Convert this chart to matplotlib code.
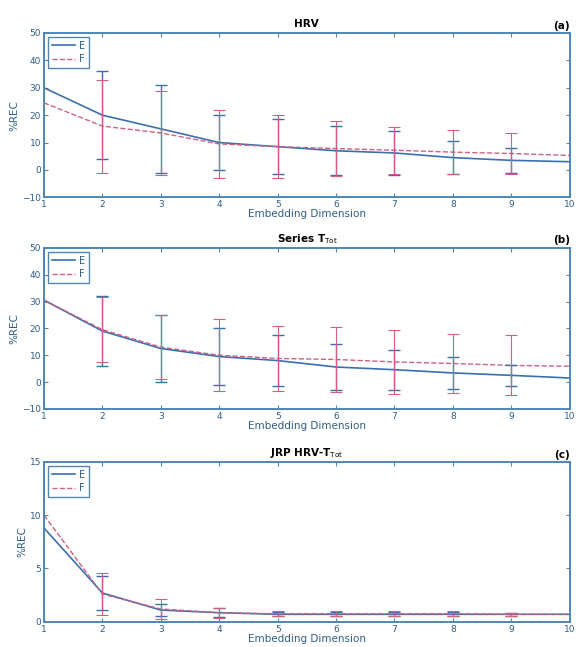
import numpy as np
import matplotlib
matplotlib.use("Agg")
import matplotlib.pyplot as plt

dims = np.arange(1, 11)

# panel (a) HRV
hrv_e = [30, 20, 15, 10, 8.5, 7, 6.2, 4.5, 3.5, 3]
hrv_f = [24.5, 16, 13.5, 9.5, 8.5, 7.8, 7.2, 6.5, 6, 5.3]
hrv_e_err = [0, 16, 16, 10, 10, 9, 8, 6, 4.5, 0]
hrv_f_err = [0, 17, 15.5, 12.5, 11.5, 10, 8.5, 8, 7.5, 0]

# panel (b) Series T_Tot
ttot_e = [30.5, 19, 12.5, 9.5, 8, 5.6, 4.6, 3.4, 2.5, 1.5]
ttot_f = [30.5, 19.5, 13, 10, 8.8, 8.4, 7.5, 6.9, 6.2, 5.9]
ttot_e_err = [0, 13, 12.5, 10.5, 9.5, 8.7, 7.5, 6, 4, 0]
ttot_f_err = [0, 12, 12, 13.5, 12, 12, 11.8, 11, 11.2, 0]

# panel (c) JRP HRV-T_Tot
jrp_e = [8.8, 2.7, 1.1, 0.85, 0.7, 0.7, 0.7, 0.7, 0.7, 0.7]
jrp_f = [10, 2.6, 1.2, 0.85, 0.75, 0.75, 0.75, 0.75, 0.7, 0.7]
jrp_e_err = [0, 1.6, 0.6, 0.4, 0.2, 0.2, 0.2, 0.2, 0.15, 0]
jrp_f_err = [0, 2.0, 0.9, 0.45, 0.25, 0.25, 0.25, 0.25, 0.15, 0]

titles = ["HRV", r"Series T$_{\mathrm{Tot}}$", r"JRP HRV-T$_{\mathrm{Tot}}$"]
tags = ["(a)", "(b)", "(c)"]

blue = "#3a6fb0"
red = "#d0607f"
axis_col = "#4f86b5"
text_col = "#2f5d88"

fig = plt.figure(figsize=(5.79, 6.47), dpi=100)
boxes = [
    [0.076, 0.695, 0.908, 0.254],
    [0.076, 0.368, 0.908, 0.249],
    [0.076, 0.039, 0.908, 0.247],
]
panels = [
    (hrv_e, hrv_f, hrv_e_err, hrv_f_err, (-10, 50), np.arange(-10, 51, 10)),
    (ttot_e, ttot_f, ttot_e_err, ttot_f_err, (-10, 50), np.arange(-10, 51, 10)),
    (jrp_e, jrp_f, jrp_e_err, jrp_f_err, (0, 15), np.arange(0, 16, 5)),
]

for box, (e, f, e_err, f_err, ylim, yticks), title, tag in zip(boxes, panels, titles, tags):
    ax = fig.add_axes(box)
    ax.plot(dims, e, "-", color=blue, lw=1.2, label="E")
    ax.plot(dims, f, "--", color=red, lw=1.0, label="F")
    # error bars only on the inner dimensions, as in the original figure
    sel = slice(1, 9)
    ax.errorbar(dims[sel], np.array(e)[sel], yerr=np.array(e_err)[sel], fmt="none",
                ecolor=blue, elinewidth=1.0, capsize=4, capthick=1.0)
    ax.errorbar(dims[sel], np.array(f)[sel], yerr=np.array(f_err)[sel], fmt="none",
                ecolor=red, elinewidth=0.8, capsize=4, capthick=0.8)
    ax.set_xlim(1, 10)
    ax.set_ylim(*ylim)
    ax.set_xticks(dims)
    ax.set_yticks(yticks)
    ax.tick_params(direction="in", top=True, right=True, labelsize=6.5,
                   colors=axis_col, labelcolor=text_col, length=3, pad=2)
    for sp in ax.spines.values():
        sp.set_color(axis_col)
        sp.set_linewidth(1.4)
    ax.set_xlabel("Embedding Dimension", fontsize=7.5, color=text_col, labelpad=0)
    ax.set_ylabel("%REC", fontsize=7.5, color=text_col, labelpad=2)
    ax.set_title(title, fontsize=7.5, fontweight="bold", pad=4)
    ax.text(1.0, 1.015, tag, transform=ax.transAxes, ha="right", va="bottom",
            fontsize=7.5, fontweight="bold")
    leg = ax.legend(loc="upper left", fontsize=7, handlelength=2.4, borderpad=0.4,
                    labelspacing=0.35, fancybox=False, framealpha=1, borderaxespad=0.4,
                    handletextpad=0.4)
    leg.get_frame().set_edgecolor(axis_col)
    leg.get_frame().set_linewidth(1.0)
    for t in leg.get_texts():
        t.set_color(text_col)

fig.savefig("out.png", dpi=100)
